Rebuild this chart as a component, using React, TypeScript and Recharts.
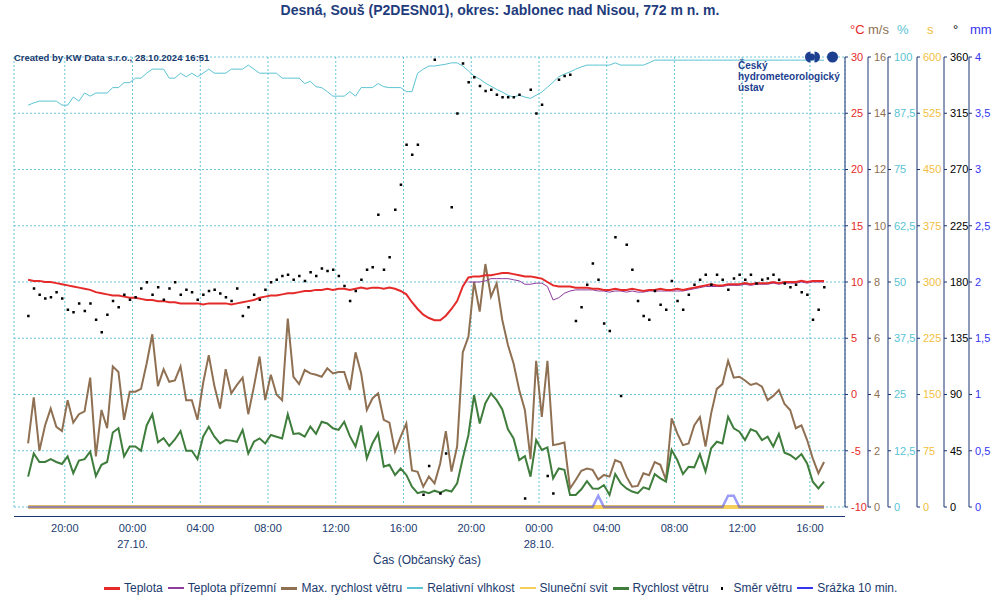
import { CartesianGrid, ComposedChart, Line, Scatter, XAxis, YAxis } from "recharts";

const NAVY = "#1b3a6e";
const AXIS = "#1c3572";

// time: hours since 26.10. 17:00, samples every 20 min starting 17:50
const START_H = 5 / 6;
const STEP_H = 1 / 3;

const tickHours = [3, 7, 11, 15, 19, 23, 27, 31, 35, 39, 43, 47];
const tickLabels = ["20:00", "00:00", "04:00", "08:00", "12:00", "16:00", "20:00", "00:00", "04:00", "08:00", "12:00", "16:00"];
const dateLabels = ["", "27.10.", "", "", "", "", "", "28.10.", "", "", "", ""];

// °C
const temperature = [
  10.2, 10.1, 10.1, 10.0, 10.0, 9.9, 9.8, 9.7, 9.6, 9.5,
  9.4, 9.3, 9.1, 9.0, 8.9, 8.8, 8.8, 8.7, 8.6, 8.6,
  8.5, 8.4, 8.4, 8.3, 8.3, 8.2, 8.2, 8.1, 8.1, 8.1,
  8.1, 8.0, 8.1, 8.1, 8.1, 8.1, 8.0, 8.1, 8.2, 8.3,
  8.4, 8.6, 8.7, 8.8, 8.8, 8.9, 9.0, 9.0, 9.1, 9.2,
  9.2, 9.3, 9.3, 9.4, 9.3, 9.4, 9.4, 9.3, 9.4, 9.5,
  9.4, 9.5, 9.5, 9.4, 9.5, 9.4, 9.2, 8.9, 8.2, 7.6,
  7.1, 6.8, 6.6, 6.6, 7.0, 7.6, 8.3, 9.6, 10.4, 10.5,
  10.5, 10.6, 10.6, 10.7, 10.8, 10.8, 10.7, 10.6, 10.5, 10.5,
  10.4, 10.3, 10.0, 9.7, 9.6, 9.6, 9.6, 9.5, 9.5, 9.5,
  9.4, 9.4, 9.3, 9.3, 9.4, 9.3, 9.3, 9.4, 9.3, 9.2,
  9.3, 9.3, 9.4, 9.3, 9.3, 9.4, 9.3, 9.4, 9.5, 9.6,
  9.7, 9.8, 9.7, 9.7, 9.8, 9.8, 9.8, 9.9, 9.8, 9.9,
  9.9, 9.9, 10.0, 9.9, 10.0, 10.0, 10.0, 10.1, 10.0, 10.1,
  10.1, 10.1,
];

// °C, ground temperature only from ~20:00 27.10.
const groundTemp = [
  ...Array(78).fill(null),
  10.0, 10.0, 10.0, 10.1, 10.3, 10.3, 10.3, 10.3, 10.2, 10.1,
  9.8, 9.8, 9.9, 9.9, 9.6, 8.4, 8.6, 9.0, 9.2, 9.3,
  9.3, 9.3, 9.3, 9.2, 9.2, 9.1, 9.2, 9.2, 9.1, 9.2,
  9.1, 9.1, 9.2, 9.2, 9.2, 9.2, 9.2, 9.2, 9.2, 9.3,
  9.4, 9.5, 9.6, 9.6, 9.6, 9.6, 9.7, 9.7, 9.7, 9.8,
  9.7, 9.8, 9.8, 9.8, 9.9, 9.8, 9.9, 9.9, 9.9, 10.0,
  9.9, 10.0, 10.0, 10.0,
];

// m/s
const maxWind = [
  2.26, 3.9, 2.0, 2.9, 3.5, 2.85, 2.7, 3.8, 3.0, 3.3,
  3.4, 4.6, 1.8, 3.45, 2.8, 5.0, 4.8, 3.1, 4.1, 4.1,
  4.2, 5.1, 6.14, 4.3, 4.9, 4.45, 4.5, 5.0, 3.8, 3.8,
  3.1, 4.4, 5.4, 4.3, 3.5,
  4.9, 4.04, 4.34, 4.6, 3.3, 4.28, 5.35, 3.8, 4.7, 4.0,
  3.8, 6.7, 4.63, 4.37, 4.87, 4.75, 4.7, 4.63, 4.93, 4.75,
  4.8, 4.8, 4.16, 5.5, 4.75, 3.45, 3.86, 4.04, 3.1, 3.0,
  1.97, 2.5, 2.97, 1.3, 1.25, 0.72, 1.08,
  0.84, 1.55, 2.7, 1.26, 2.15, 5.5, 6.05, 8.0, 6.95, 8.64,
  7.48, 7.95, 6.65, 5.76, 5.1, 4.16, 3.45, 1.7, 5.2, 3.2,
  5.2, 2.2, 2.24, 2.29, 0.66, 0.96, 1.29, 1.37, 1.32, 0.98,
  1.14, 1.08, 1.67, 1.58, 1.08,
  0.72, 0.75, 1.2, 1.13, 1.6, 1.5, 0.96, 3.15, 2.62, 2.2,
  2.26, 2.9, 3.2, 2.15, 3.33, 4.2, 4.37, 5.2, 4.6, 4.63,
  4.5, 4.34, 4.4, 4.28, 3.8, 3.95, 4.16, 3.66, 3.45, 2.8,
  2.9, 2.38, 1.73, 1.2, 1.6,
];

// m/s
const wind = [
  1.08, 1.9, 1.6, 1.6, 1.7, 1.6, 1.53, 1.8, 1.2, 1.65,
  1.7, 1.97, 1.1, 1.5, 1.6, 2.65, 2.8, 1.8, 2.15, 2.15,
  2.0, 2.9, 3.3, 2.3, 2.45, 2.17, 2.4, 2.7, 2.0, 2.0,
  1.7, 2.5, 2.85, 2.5, 2.26,
  2.38, 2.36, 2.32, 2.74, 1.9, 2.32, 2.44, 2.26, 2.56, 2.5,
  2.44, 3.3, 2.6, 2.62, 2.5, 2.86, 2.6, 3.03, 2.97, 2.8,
  2.74, 3.03, 2.52, 2.15, 2.9, 1.73, 2.26, 2.62, 1.43, 1.5,
  1.14, 1.37, 1.14, 0.72, 0.49, 0.55, 0.49,
  0.58, 0.51, 0.6, 0.55, 0.84, 1.73, 2.56, 3.98, 2.97, 3.69,
  4.04, 3.8, 3.47, 2.76, 2.44, 1.67, 1.81, 1.08, 2.38, 2.03,
  2.12, 1.02, 1.37, 1.32, 0.43, 0.43, 0.63, 0.92, 0.66, 0.65,
  0.78, 0.43, 1.17, 0.84, 0.66,
  0.55, 0.49, 0.7, 0.63, 1.17, 1.02, 0.9, 2.03, 1.67, 1.17,
  1.43, 1.41, 1.88, 1.26, 2.09, 2.32, 2.26, 3.21, 2.8, 2.68,
  2.38, 2.76, 2.68, 2.38, 2.5, 2.15, 2.6, 1.93, 1.85, 1.7,
  1.88, 1.55, 0.9, 0.66, 0.9,
];

// %
const humidity = [
  89.3, 89.8, 90.2, 90.2, 90.2, 90.2, 89.3, 89.3, 91.1, 90.2,
  92.0, 91.3, 92.0, 92.0, 92.0, 93.2, 93.2, 94.3, 94.3, 95.3,
  95.3, 96.4, 97.3, 97.3, 97.3, 95.3, 95.3, 96.4, 95.6, 96.4,
  95.6, 96.4, 97.3, 96.4, 96.4, 96.4, 97.3, 97.3, 97.3, 98.2,
  97.3, 96.4, 96.4, 96.4, 96.4, 95.3, 95.3, 95.3, 95.3, 94.1,
  94.6, 93.4, 93.2, 92.3, 91.3, 91.3, 91.3, 92.3, 91.3, 93.2,
  93.2, 93.2, 94.1, 93.4, 93.2, 93.2, 93.2, 92.3, 92.3, 96.4,
  97.3, 98.0, 98.0, 98.2, 98.4, 98.7, 98.7, 98.0, 96.9, 95.8,
  95.1, 94.2, 93.5, 92.8, 92.2, 91.5, 91.1, 91.5, 91.1, 90.8,
  91.5, 92.2, 93.3, 94.4, 95.6, 96.2, 96.7, 97.3, 97.8, 98.2,
  98.2, 98.2, 98.2, 98.2, 98.7, 98.2, 98.2, 98.2, 98.2, 98.2,
  98.7, 99.3, 99.3, 99.3, 99.3, 99.3, 99.3, 99.3, 99.3, 99.3,
  99.3, 99.3, 99.3, 99.3, 99.3, 99.3, 99.3, 99.3, 99.3, 99.3,
  99.3, 99.3, 99.3, 99.3, 99.3, 99.3, 99.3, 99.3, 99.3, 99.3,
  99.3, 99.3,
];

// degrees
const direction = [
  153, 175, 170, 167, 168, 172, 167, 158, 156, 163,
  157, 163, 150, 140, 154, 165, 160, 170, 166, 168,
  175, 180, 170, 176, 166, 175, 180, 170, 174, 172,
  166, 170, 173, 174, 171, 168, 165, 175, 153, 160,
  170, 166, 174, 180, 182, 185, 186, 182, 185, 181,
  188, 185, 191, 189, 190, 185, 177, 165, 173, 182,
  190, 192, 234, 190, 200, 238, 258, 290, 282, 290,
  10, 33, 358, 11, 43, 240, 315, 355, 340, 344,
  337, 333, 334, 330, 328, 328, 328, 330, 7, 334,
  315, 322, 25, 11, 342, 345, 346, 149, 160, 178,
  195, 182, 147, 141, 216, 89, 210, 190, 165, 153,
  150, 173, 162, 158, 181, 165, 158, 170, 178, 182,
  186, 178, 186, 182, 174, 183, 186, 182, 186, 179,
  182, 183, 186, 182, 179, 176, 178, 172, 170, 150,
  158, 176,
];

// s (no sunshine in the whole period)
const sunshine = temperature.map(() => 0);

// mm per 10 min, only two small events
const rainEvents: Record<number, number> = { 101: 0.1, 124: 0.1, 125: 0.1 };
const precipitation = temperature.map((_, i) => rainEvents[i] ?? 0);

const data = temperature.map((t, i) => ({
  h: START_H + i * STEP_H,
  t,
  tg: groundTemp[i],
  maxWind: maxWind[i],
  wind: wind[i],
  rh: humidity[i],
  sun: sunshine[i],
  dir: direction[i],
  rain: precipitation[i],
}));

const legendItems = [
  { name: "Teplota", color: "#e52a2a", width: 3 },
  { name: "Teplota přízemní", color: "#8e3c9e", width: 1.5 },
  { name: "Max. rychlost větru", color: "#8f7052", width: 3 },
  { name: "Relativní vlhkost", color: "#5bc3d3", width: 1.5 },
  { name: "Sluneční svit", color: "#f5cf5a", width: 1.5 },
  { name: "Rychlost větru", color: "#3f7d3c", width: 3 },
  { name: "Směr větru", color: "#000", width: 0 },
  { name: "Srážka 10 min.", color: "#3535f0", width: 2 },
];

const unitLabels = [
  { text: "°C", color: "#e52a2a", left: 850 },
  { text: "m/s", color: "#8f7052", left: 868 },
  { text: "%", color: "#5bc3d3", left: 897 },
  { text: "s", color: "#f2c040", left: 927 },
  { text: "°", color: "#000", left: 953 },
  { text: "mm", color: "#3535f0", left: 970 },
];

const fmt = (v: number) => String(v).replace(".", ",");

function TimeTick(props: any) {
  const { x, payload } = props;
  const idx = tickHours.indexOf(payload.value);
  return (
    <g>
      <text x={x} y={532} textAnchor="middle" fill={NAVY} fontSize={11}>
        {tickLabels[idx]}
      </text>
      {dateLabels[idx] ? (
        <text x={x} y={548} textAnchor="middle" fill={NAVY} fontSize={11}>
          {dateLabels[idx]}
        </text>
      ) : null}
    </g>
  );
}

const Dot = (props: any) =>
  props.cy == null ? null : <rect x={props.cx - 1} y={props.cy - 1} width={2.5} height={2.5} fill="#000" />;

const yAxisCommon = {
  orientation: "right" as const,
  tickSize: 3,
  tickMargin: 3,
  axisLine: { stroke: AXIS },
  tickLine: { stroke: AXIS },
  interval: 0 as const,
  tickFormatter: fmt,
};

// right axes get stacked outward in id order, hence the a_..f_ prefixes
export default function App() {
  return (
    <div
      style={{
        position: "absolute",
        left: 0,
        top: 0,
        width: 1000,
        height: 600,
        background: "#fff",
        fontFamily: "'Liberation Sans', Arial, sans-serif",
      }}
    >
      <div
        style={{
          position: "absolute",
          top: 2,
          left: 0,
          width: 1000,
          textAlign: "center",
          fontSize: 14,
          fontWeight: "bold",
          color: "#1f3c7c",
        }}
      >
        Desná, Souš (P2DESN01), okres: Jablonec nad Nisou, 772 m n. m.
      </div>
      {unitLabels.map((u) => (
        <div key={u.text} style={{ position: "absolute", top: 22, left: u.left, fontSize: 13, color: u.color }}>
          {u.text}
        </div>
      ))}
      <ComposedChart width={1000} height={600} data={data} margin={{ top: 57, right: 0, left: 14, bottom: 63 }}>
        <CartesianGrid yAxisId="a_t" stroke="#6cc6d8" strokeDasharray="2 2" />
        <XAxis
          dataKey="h"
          type="number"
          domain={[0, 49.07]}
          ticks={tickHours}
          allowDataOverflow
          axisLine={false}
          tickLine={false}
          tick={<TimeTick />}
          height={30}
        />
        <YAxis yAxisId="a_t" {...yAxisCommon} width={23} domain={[-10, 30]} ticks={[-10, -5, 0, 5, 10, 15, 20, 25, 30]} tick={{ fill: "#e52a2a", fontSize: 11 }} />
        <YAxis yAxisId="b_w" {...yAxisCommon} width={20} domain={[0, 16]} ticks={[0, 2, 4, 6, 8, 10, 12, 14, 16]} tick={{ fill: "#8f7052", fontSize: 11 }} />
        <YAxis yAxisId="c_rh" {...yAxisCommon} width={29} domain={[0, 100]} ticks={[0, 12.5, 25, 37.5, 50, 62.5, 75, 87.5, 100]} tick={{ fill: "#5bc3d3", fontSize: 11 }} />
        <YAxis yAxisId="d_s" {...yAxisCommon} width={27} domain={[0, 600]} ticks={[0, 75, 150, 225, 300, 375, 450, 525, 600]} tick={{ fill: "#f2c040", fontSize: 11 }} />
        <YAxis yAxisId="e_d" {...yAxisCommon} width={25} domain={[0, 360]} ticks={[0, 45, 90, 135, 180, 225, 270, 315, 360]} tick={{ fill: "#000", fontSize: 11 }} />
        <YAxis yAxisId="f_mm" {...yAxisCommon} width={31} domain={[0, 4]} ticks={[0, 0.5, 1, 1.5, 2, 2.5, 3, 3.5, 4]} tick={{ fill: "#3535f0", fontSize: 11 }} />

        <Line yAxisId="d_s" dataKey="sun" stroke="#f5cf5a" strokeWidth={4} dot={false} isAnimationActive={false} />
        <Line yAxisId="f_mm" dataKey="rain" stroke="#3535f0" strokeOpacity={0.5} strokeWidth={2.5} dot={false} isAnimationActive={false} />
        <Line yAxisId="c_rh" dataKey="rh" stroke="#5bc3d3" strokeWidth={1} dot={false} isAnimationActive={false} />
        <Line yAxisId="b_w" dataKey="maxWind" stroke="#8f7052" strokeWidth={2} dot={false} isAnimationActive={false} />
        <Line yAxisId="b_w" dataKey="wind" stroke="#3f7d3c" strokeWidth={2} dot={false} isAnimationActive={false} />
        <Line yAxisId="a_t" dataKey="tg" stroke="#8e3c9e" strokeWidth={1} dot={false} isAnimationActive={false} />
        <Line yAxisId="a_t" dataKey="t" stroke="#e52a2a" strokeWidth={2} dot={false} isAnimationActive={false} />
        <Scatter yAxisId="e_d" dataKey="dir" shape={Dot} isAnimationActive={false} />
      </ComposedChart>

      {/* x axis line sits a little below the plot */}
      <div style={{ position: "absolute", left: 14, top: 516, width: 831, height: 1, background: AXIS }} />
      <div style={{ position: "absolute", top: 553, left: 327, width: 200, textAlign: "center", fontSize: 12, color: NAVY }}>
        Čas (Občanský čas)
      </div>

      <div style={{ position: "absolute", top: 52, left: 14, fontSize: 9.5, fontWeight: "bold", color: NAVY }}>
        Created by KW Data s.r.o., 28.10.2024 16:51
      </div>

      {/* CHMI logo */}
      <svg style={{ position: "absolute", left: 800, top: 48 }} width={45} height={18}>
        <path d="M10.5 3.5 A5.5 5.5 0 0 0 10.5 14.5 Z" fill="#1d3f8f" />
        <path d="M14.5 3.5 A5.5 5.5 0 0 1 14.5 14.5 Z" fill="#1d3f8f" />
        <circle cx={11.5} cy={9} r={3.5} fill="#1d3f8f" />
        <circle cx={32.5} cy={9} r={5.5} fill="#1d3f8f" />
      </svg>
      <div style={{ position: "absolute", left: 738, top: 60, fontSize: 10, lineHeight: "11px", fontWeight: "bold", color: "#1d3f8f" }}>
        Český
        <br />
        hydrometeorologický
        <br />
        ústav
      </div>

      <div style={{ position: "absolute", top: 580, left: 104, display: "flex", alignItems: "center", fontSize: 12, color: NAVY, whiteSpace: "nowrap" }}>
        {legendItems.map((it) => (
          <div key={it.name} style={{ display: "flex", alignItems: "center", marginRight: 5 }}>
            <div style={{ width: 16, height: 16, position: "relative", marginRight: 4 }}>
              {it.width > 0 ? (
                <div style={{ position: "absolute", left: 0, top: 8 - it.width / 2, width: 16, height: it.width, background: it.color }} />
              ) : (
                <div style={{ position: "absolute", left: 7, top: 7, width: 2.5, height: 2.5, background: "#000" }} />
              )}
            </div>
            <span>{it.name}</span>
          </div>
        ))}
      </div>
    </div>
  );
}
